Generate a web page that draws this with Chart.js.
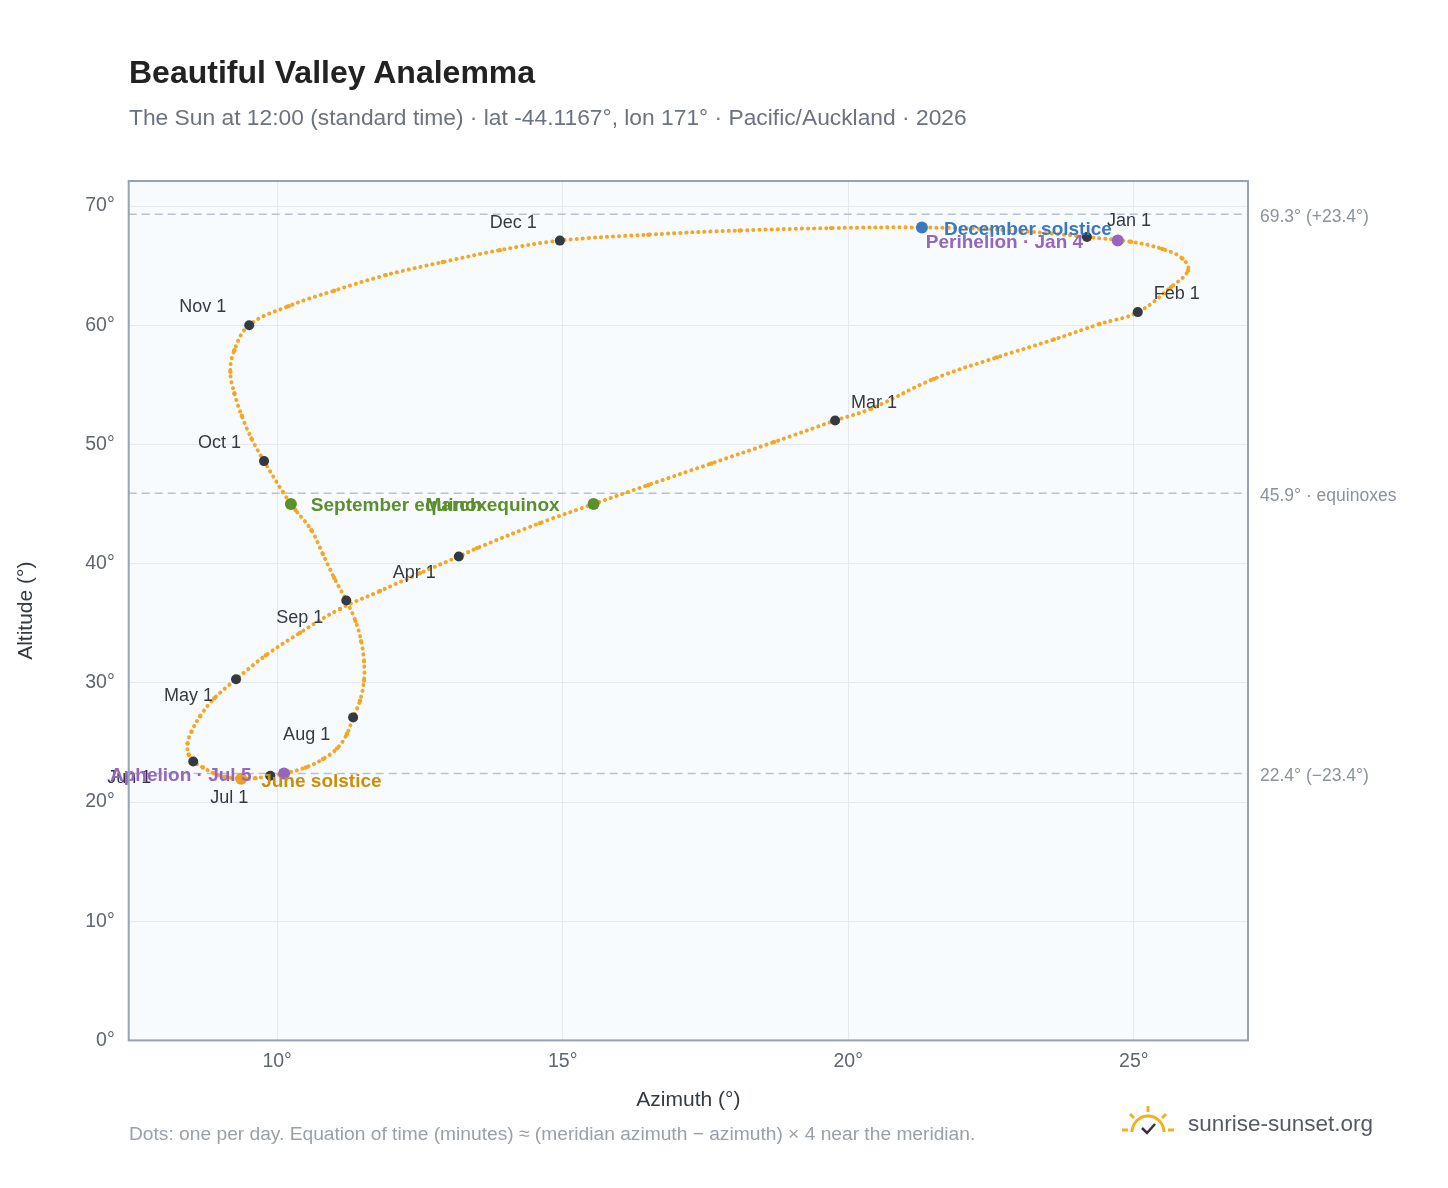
<!DOCTYPE html>
<html><head><meta charset="utf-8">
<script src="https://cdn.jsdelivr.net/npm/chart.js@4/dist/chart.umd.min.js"></script>
<style>
body{margin:0;background:#fff;font-family:"Liberation Sans",Arial,sans-serif}
#wrap{position:relative;width:1448px;height:1188px}
canvas{position:absolute;left:0;top:0}
.t{position:absolute;left:129px;top:54px;font-size:32px;font-weight:bold;color:#222}
.s{position:absolute;left:129px;top:104px;font-size:22.8px;color:#6b7280}
.f{position:absolute;left:129px;top:1123px;font-size:19.2px;color:#9aa0a8}
.logo{position:absolute;left:1188px;top:1111px;font-size:22.5px;color:#555b63}
</style></head><body>
<div id="wrap">
<canvas id="c" width="1448" height="1188"></canvas>
<div class="t">Beautiful Valley Analemma</div>
<div class="s">The Sun at 12:00 (standard time) · lat -44.1167°, lon 171° · Pacific/Auckland · 2026</div>
<div class="f">Dots: one per day. Equation of time (minutes) ≈ (meridian azimuth − azimuth) × 4 near the meridian.</div>
<svg style="position:absolute;left:1120px;top:1104px" width="60" height="34" viewBox="0 0 60 34">
<path d="M12 28 A16 16 0 0 1 44 28" fill="none" stroke="#f2b01e" stroke-width="3"/>
<g stroke="#f2b01e" stroke-width="3"><line x1="28" y1="2" x2="28" y2="8"/><line x1="10" y1="10" x2="14" y2="14"/><line x1="46" y1="10" x2="42" y2="14"/><line x1="2" y1="26" x2="8" y2="26"/><line x1="48" y1="26" x2="54" y2="26"/></g>
<path d="M22 24 l5 5 l8 -9" fill="none" stroke="#333" stroke-width="2.5"/></svg>
<div class="logo">sunrise-sunset.org</div>
</div>
<script>
// analemma samples (azimuth, altitude), read roughly every 5 days, Jan 1 -> Dec 31
const azimuth = [24.18,24.95,25.5,25.85,25.95,25.65,25.07,24.4,23.6,22.6,21.5,20.4,19.77,18.7,17.6,16.5,15.54,14.6,13.5,13.18,12.5,11.8,11.1,10.4,9.8,9.28,8.9,8.65,8.5,8.43,8.45,8.53,8.7,8.9,9.1,9.37,9.62,9.88,10.12,10.5,10.8,11.05,11.22,11.33,11.45,11.52,11.52,11.47,11.37,11.21,11.0,10.8,10.6,10.32,10.24,10.1,9.77,9.55,9.38,9.25,9.18,9.25,9.51,10.2,11.0,11.9,12.9,13.9,14.95,16.5,18.1,19.7,21.29,22.7,24.0,24.18];
const altitude = [67.4,67.0,66.4,65.6,64.6,63.2,61.1,60.1,58.8,57.3,55.5,53.0,52.0,50.2,48.4,46.6,45.0,43.4,41.3,40.6,39.2,37.7,36.2,34.2,32.3,30.3,28.7,27.2,25.9,24.9,24.0,23.4,22.9,22.4,22.1,21.95,22.0,22.2,22.4,22.9,23.6,24.5,25.7,27.1,28.5,30.2,31.8,33.5,35.2,36.9,38.8,40.8,42.8,44.5,45.0,46.0,48.6,50.5,52.4,54.3,56.1,57.9,60.0,61.6,62.9,64.2,65.3,66.3,67.1,67.6,67.95,68.15,68.2,68.0,67.5,67.4];

const monthLabels = ['Jan 1','Feb 1','Mar 1','Apr 1','May 1','Jun 1','Jul 1','Aug 1','Sep 1','Oct 1','Nov 1','Dec 1'];
const monthAz = [24.18,25.07,19.77,13.18,9.28,8.53,9.88,11.33,11.21,9.77,9.51,14.95];
const monthAlt = [67.4,61.1,52.0,40.6,30.3,23.4,22.2,27.1,36.9,48.6,60.0,67.1];

const eventLabels = ['March equinox','September equinox','December solstice','June solstice','Perihelion · Jan 4','Aphelion · Jul 5'];
const eventAz = [15.54,10.24,21.29,9.37,24.72,10.12];
const eventAlt = [45.0,45.0,68.2,21.95,67.1,22.4];
const eventColors = ['#5b8f2d','#5b8f2d','#3b78c0','#f0a020','#9467bd','#9467bd'];
const eventTextColors = ['#5b8f2d','#5b8f2d','#3b78c0','#c8900a','#9467bd','#9467bd'];

const refAlt = [69.3,45.9,22.4];
const refLabels = ['69.3° (+23.4°)','45.9° · equinoxes','22.4° (−23.4°)'];

const monthOff = [[20,-16],[16,-18],[16,-18],[-66,17],[-72,17],[-86,17],[-60,22],[-70,18],[-70,17],[-66,-18],[-70,-18],[-70,-18]];
const eventOff = [[-168,2],[20,2],[22,2],[20,3],[-192,2],[-174,2]];

const overlay = {
  id:'overlay',
  beforeDatasetsDraw(ch){
    const {ctx,chartArea:a,scales:{y}}=ch;
    ctx.save();
    ctx.setLineDash([8,5]);ctx.strokeStyle='#b8c2cc';ctx.lineWidth=1.5;
    refAlt.forEach((v,i)=>{const py=y.getPixelForValue(v);
      ctx.beginPath();ctx.moveTo(a.left,py);ctx.lineTo(a.right,py);ctx.stroke();
      ctx.fillStyle='#8a929c';ctx.font='17.5px "Liberation Sans"';ctx.textBaseline='middle';
      ctx.fillText(refLabels[i],a.right+12,py+3);});
    ctx.restore();
  },
  afterDatasetsDraw(ch){
    const {ctx,scales:{x,y}}=ch;
    ctx.save();ctx.textBaseline='middle';
    ctx.font='18px "Liberation Sans"';ctx.fillStyle='#333a42';
    monthLabels.forEach((l,i)=>{ctx.fillText(l,x.getPixelForValue(monthAz[i])+monthOff[i][0],y.getPixelForValue(monthAlt[i])+monthOff[i][1]);});
    ctx.font='bold 19px "Liberation Sans"';
    eventLabels.forEach((l,i)=>{ctx.fillStyle=eventTextColors[i];
      ctx.fillText(l,x.getPixelForValue(eventAz[i])+eventOff[i][0],y.getPixelForValue(eventAlt[i])+eventOff[i][1]);});
    ctx.restore();
  }
};
const bg={id:'bg',beforeDraw(ch){const {ctx,chartArea:a}=ch;ctx.save();ctx.fillStyle='#f8fbfe';ctx.fillRect(a.left,a.top,a.width,a.height);ctx.restore();},
  afterDraw(ch){const {ctx,chartArea:a}=ch;ctx.save();ctx.strokeStyle='#97a3b0';ctx.lineWidth=2;ctx.strokeRect(a.left,a.top,a.width,a.height);ctx.restore();}};

new Chart(document.getElementById('c'),{
  type:'scatter',
  data:{datasets:[
    {order:3,data:azimuth.map((v,i)=>({x:v,y:altitude[i]})),showLine:true,tension:0.4,borderColor:'#f5a623',borderWidth:4,borderDash:[0.1,6],borderCapStyle:'round',pointRadius:2.2,pointBackgroundColor:'#f5a623',pointBorderWidth:0},
    {order:2,data:monthAz.map((v,i)=>({x:v,y:monthAlt[i]})),pointRadius:5,pointBackgroundColor:'#343a42',pointBorderWidth:0},
    {order:1,data:eventAz.map((v,i)=>({x:v,y:eventAlt[i]})),pointRadius:6,pointBackgroundColor:eventColors,pointBorderWidth:0}
  ]},
  options:{responsive:false,animation:false,
    layout:{padding:{top:181,right:200,bottom:71,left:10}},
    plugins:{legend:{display:false},tooltip:{enabled:false}},
    scales:{
      x:{min:7.4,max:27,afterBuildTicks:s=>{s.ticks=[10,15,20,25].map(v=>({value:v}));},
        grid:{color:'#e3e8ee',drawTicks:false},border:{display:false},
        ticks:{color:'#5f6670',font:{size:19.5,family:'Liberation Sans'},padding:10,callback:v=>v+'°'},
        title:{display:true,text:'Azimuth (°)',color:'#333a42',font:{size:21,family:'Liberation Sans'},padding:{top:4}}},
      y:{min:0,max:72.1,afterBuildTicks:s=>{s.ticks=[0,10,20,30,40,50,60,70].map(v=>({value:v}));},
        grid:{color:'#e3e8ee',drawTicks:false},border:{display:false},
        ticks:{color:'#5f6670',font:{size:19.5,family:'Liberation Sans'},padding:14,callback:v=>v+'°'},
        title:{display:true,text:'Altitude (°)',color:'#333a42',font:{size:21,family:'Liberation Sans'},padding:{bottom:32}}}
    }},
  plugins:[bg,overlay]
});
</script></body></html>
